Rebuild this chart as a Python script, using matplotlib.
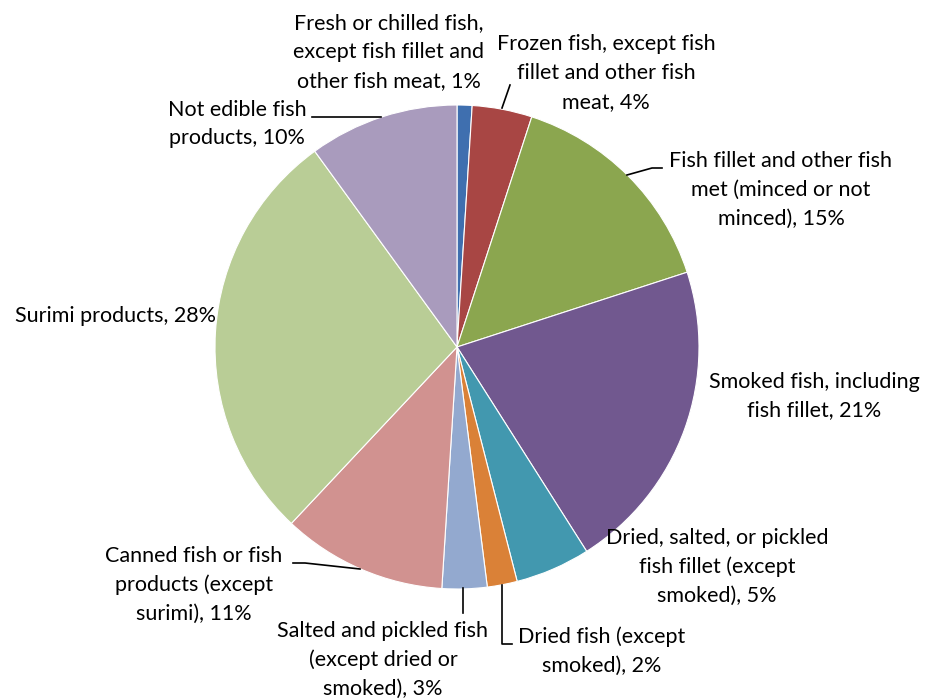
import matplotlib
matplotlib.use("Agg")
import matplotlib.pyplot as plt

categories = [
    "Fresh or chilled fish,\nexcept fish fillet and\nother fish meat",
    "Frozen fish, except fish\nfillet and other fish\nmeat",
    "Fish fillet and other fish\nmet (minced or not\nminced)",
    "Smoked fish, including\nfish fillet",
    "Dried, salted, or pickled\nfish fillet (except\nsmoked)",
    "Dried fish (except\nsmoked)",
    "Salted and pickled fish\n(except dried or\nsmoked)",
    "Canned fish or fish\nproducts (except\nsurimi)",
    "Surimi products",
    "Not edible fish\nproducts",
]
values = [1, 4, 15, 21, 5, 2, 3, 11, 28, 10]
colors = ["#3F6FAF", "#A84644", "#8BA64F", "#71588F", "#4298AF",
          "#DA8137", "#93A9CF", "#D19290", "#B9CD96", "#A99BBD"]

W, H = 928, 700
fig = plt.figure(figsize=(W / 100, H / 100), dpi=100)
ax = fig.add_axes([0, 0, 1, 1])

cx, cy, r = 457, H - 347, 242
ax.pie(values, colors=colors, startangle=90, counterclock=False,
       center=(cx, cy), radius=r, frame=True,
       wedgeprops=dict(linewidth=0.8, edgecolor="white"))
ax.set_xlim(0, W)
ax.set_ylim(0, H)
ax.set_axis_off()

# label text positions (pixel coords, y from top) and leader lines
label_pos = [(389, 52), (606, 73), (781, 190), (814, 396), (717, 567),
             (602, 651), (383, 660), (194, 585), (116, 316), (237, 124)]
leaders = [
    None,
    [(502, 108), (510, 85)],
    [(627, 175), (652, 168), (662, 168)],
    None,
    None,
    [(502, 585), (502, 644), (512, 644)],
    [(463, 588), (463, 613)],
    [(360, 569), (305, 563), (293, 563)],
    None,
    [(381, 117), (312, 117)],
]

font = ["Lato", "DejaVu Sans"]
for lab, v, (tx, ty), ld in zip(categories, values, label_pos, leaders):
    ax.text(tx, H - ty, f"{lab}, {v}%", ha="center", va="center",
            multialignment="center", fontsize=15.5, family=font,
            linespacing=1.55, color="black")
    if ld:
        xs = [p[0] for p in ld]
        ys = [H - p[1] for p in ld]
        ax.plot(xs, ys, color="black", lw=1.2)

fig.savefig("out.png", dpi=100, facecolor="white")
